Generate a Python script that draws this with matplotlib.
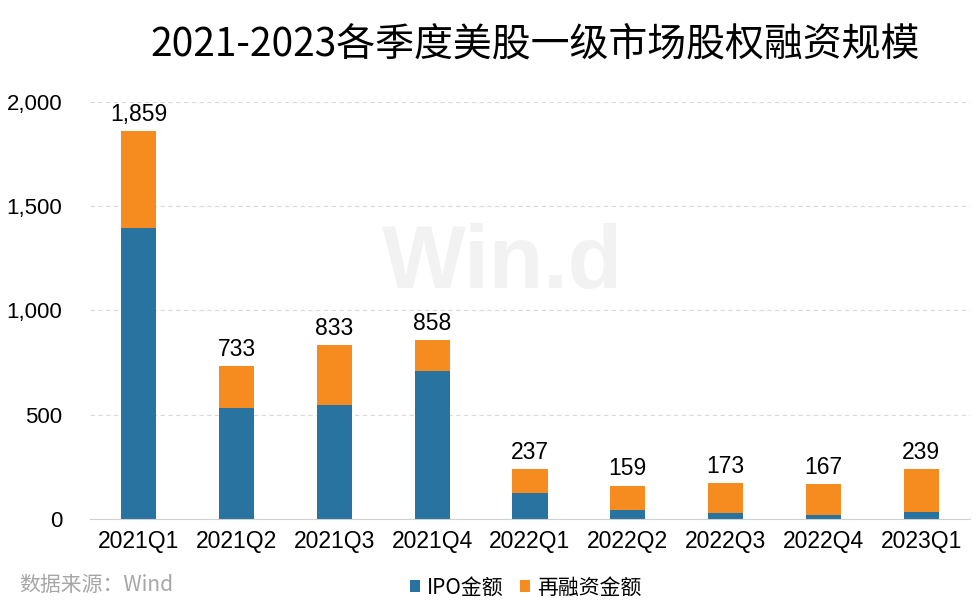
import matplotlib
matplotlib.use("Agg")
from matplotlib import pyplot as plt
import numpy as np

plt.rcParams['font.family'] = ['Liberation Sans', 'Noto Sans CJK SC', 'DejaVu Sans']

quarters = ['2021Q1', '2021Q2', '2021Q3', '2021Q4', '2022Q1',
            '2022Q2', '2022Q3', '2022Q4', '2023Q1']
totals = [1859, 733, 833, 858, 237, 159, 173, 167, 239]
ipo = [1395, 532, 547, 711, 126, 43, 29, 19, 34]
refi = [t - i for t, i in zip(totals, ipo)]

blue = '#28739f'
orange = '#f68b1f'

fig = plt.figure(figsize=(9.76, 6.09), dpi=100)
ax = fig.add_axes([0.092, 0.148, 0.902, 0.685])

x = np.arange(len(quarters))
ax.bar(x, ipo, width=0.36, color=blue, label='IPO金额', zorder=3)
ax.bar(x, refi, width=0.36, bottom=ipo, color=orange, label='再融资金额', zorder=3)

# total labels on top
for xi, t in zip(x, totals):
    ax.text(xi, t + 25, f'{t:,}', ha='center', va='bottom', fontsize=16.5, zorder=4)

ax.set_xlim(-0.5, len(quarters) - 0.5)
ax.set_ylim(0, 2000)
ax.set_yticks([0, 500, 1000, 1500, 2000])
ax.set_yticklabels(['0', '500', '1,000', '1,500', '2,000'])
ax.set_xticks(x)
ax.set_xticklabels(quarters)
ax.tick_params(axis='x', length=0, labelsize=16.5, pad=8)
ax.tick_params(axis='y', length=0, labelsize=16, pad=20)

ax.yaxis.grid(True, linestyle=(0, (4, 3)), color='#d9d9d9', linewidth=0.8, zorder=0)
for s in ['top', 'right', 'left']:
    ax.spines[s].set_visible(False)
ax.spines['bottom'].set_color('#d0d0d0')
ax.spines['bottom'].set_zorder(5)

# watermark
fig.text(0.515, 0.565, 'Win.d', fontsize=64, fontweight='bold', color='#f2f2f2',
         ha='center', va='center', zorder=0)

fig.text(0.548, 0.927, '2021-2023各季度美股一级市场股权融资规模', ha='center', va='center',
         fontsize=28, family=['Noto Sans CJK SC', 'DejaVu Sans'])

ax.legend(loc='center', bbox_to_anchor=(0.495, -0.165), ncol=2, frameon=False,
          handlelength=0.5, handleheight=0.5, handletextpad=0.3, columnspacing=0.8,
          prop={'family': ['Noto Sans CJK SC', 'DejaVu Sans'], 'size': 15})

fig.text(0.02, 0.04, '数据来源：Wind', ha='left', va='center', fontsize=15,
         color='#a6a6a6', family=['Noto Sans CJK SC', 'DejaVu Sans'])

plt.savefig('out.png', dpi=100)
